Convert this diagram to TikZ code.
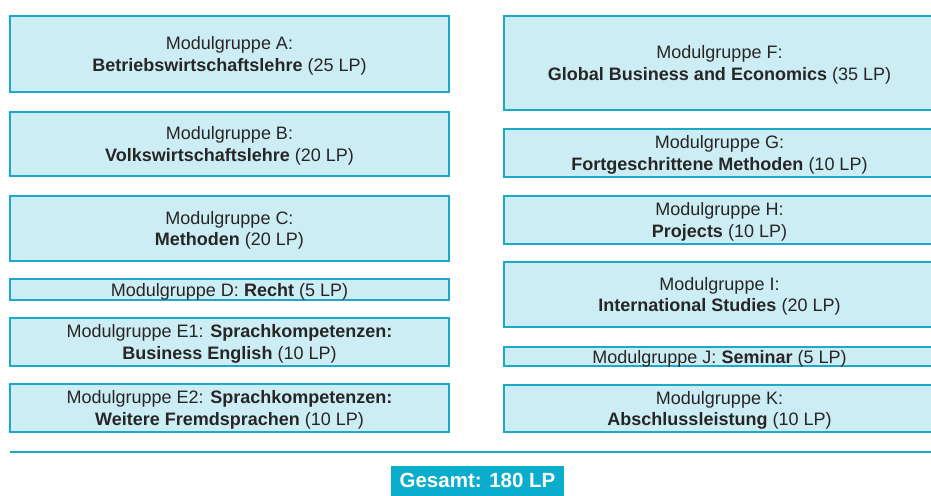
\documentclass[tikz,border=0pt]{standalone}
\usepackage{fontspec}
\setmainfont{Liberation Sans}
\usetikzlibrary{positioning}

\definecolor{boxfill}{HTML}{CDEDF4}
\definecolor{boxline}{HTML}{1CA9C9}
\definecolor{totalfill}{HTML}{0AADCB}

\begin{document}
\begin{tikzpicture}[x=1pt, y=-1pt,
    modul/.style={draw=boxline, line width=2pt, fill=boxfill, inner sep=0pt,
        align=center, text=black!85, text depth=0pt, font=\fontsize{18}{21.6}\selectfont},
    links/.style={modul, minimum width=439pt},
    rechts/.style={modul, minimum width=431pt},
    total/.style={fill=totalfill, text=white, inner sep=0pt,
        minimum width=173pt, minimum height=30pt, text height=15pt, text depth=3pt,
        font=\bfseries\fontsize{20.5}{24}\selectfont}]
    \useasboundingbox (0,0) rectangle (931,495);

    % Left column
    \node[links, minimum height=76pt] (modA) at (229.5, 54) {Modulgruppe A:\\\textbf{Betriebswirtschaftslehre} (25 LP)};
    \node[links, minimum height=64pt] (modB) at (229.5, 144) {Modulgruppe B:\\\textbf{Volkswirtschaftslehre} (20 LP)};
    \node[links, minimum height=65pt] (modC) at (229.5, 228.5) {Modulgruppe C:\\\textbf{Methoden} (20 LP)};
    \node[links, minimum height=21pt] (modD) at (229.5, 289.5) {Modulgruppe D: \textbf{Recht} (5 LP)};
    \node[links, minimum height=48pt] (modE1) at (229.5, 342) {Modulgruppe E1: \textbf{Sprachkompetenzen:}\\\textbf{Business English} (10 LP)};
    \node[links, minimum height=48pt] (modE2) at (229.5, 408) {Modulgruppe E2: \textbf{Sprachkompetenzen:}\\\textbf{Weitere Fremdsprachen} (10 LP)};

    % Right column
    \node[rechts, minimum height=94pt] (modF) at (719.5, 63) {Modulgruppe F:\\\textbf{Global Business and Economics} (35 LP)};
    \node[rechts, minimum height=48pt] (modG) at (719.5, 153) {Modulgruppe G:\\\textbf{Fortgeschrittene Methoden} (10 LP)};
    \node[rechts, minimum height=48pt] (modH) at (719.5, 220) {Modulgruppe H:\\\textbf{Projects} (10 LP)};
    \node[rechts, minimum height=65pt] (modI) at (719.5, 294.5) {Modulgruppe I:\\\textbf{International Studies} (20 LP)};
    \node[rechts, minimum height=19pt] (modJ) at (719.5, 356.5) {Modulgruppe J: \textbf{Seminar} (5 LP)};
    \node[rechts, minimum height=47pt] (modK) at (719.5, 408.5) {Modulgruppe K:\\\textbf{Abschlussleistung} (10 LP)};

    % Sum line and total
    \coordinate (sumL) at (10, 452);
    \coordinate (sumR) at (935, 452);
    \draw[boxline, line width=2pt] (sumL) -- (sumR);
    \node[total] (gesamt) at (477.5, 481) {Gesamt: 180 LP};
\end{tikzpicture}
\end{document}
